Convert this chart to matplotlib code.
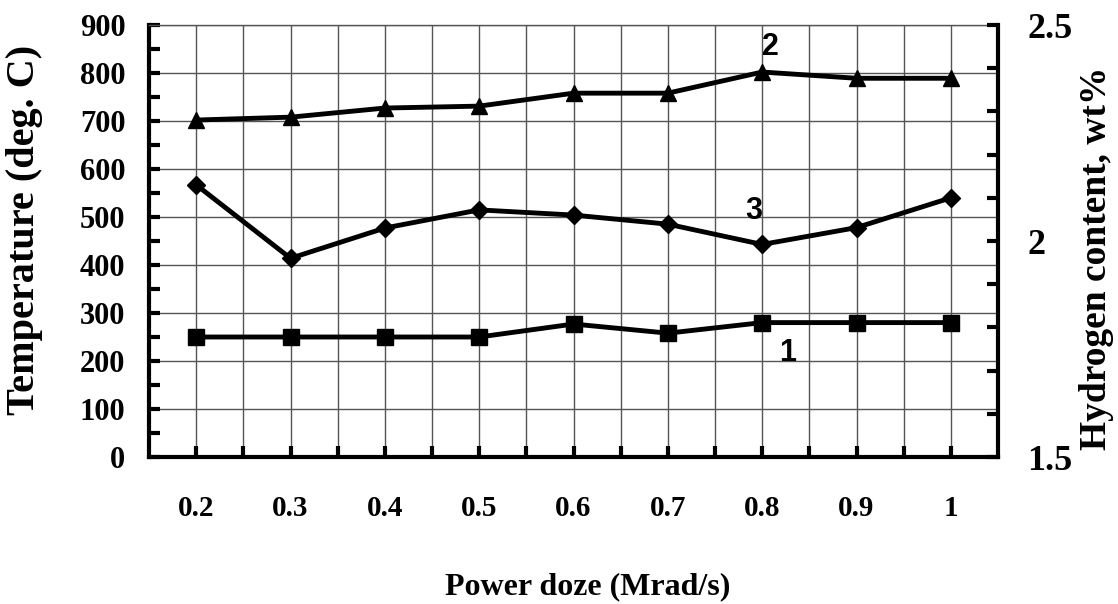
import numpy as np
import matplotlib
matplotlib.use("Agg")
import matplotlib.pyplot as plt

# Data
dose = [0.2, 0.3, 0.4, 0.5, 0.6, 0.7, 0.8, 0.9, 1.0]
dose_labels = ["0.2", "0.3", "0.4", "0.5", "0.6", "0.7", "0.8", "0.9", "1"]
temp_1 = [250, 250, 250, 250, 277, 258, 280, 280, 280]
temp_2 = [702, 708, 727, 731, 758, 758, 802, 789, 789]
hydrogen_3 = [2.13, 1.96, 2.03, 2.072, 2.06, 2.039, 1.992, 2.031, 2.10]

serif = "Liberation Serif"
sans = "Liberation Sans"

fig = plt.figure(figsize=(11.18, 6.04), dpi=100)
ax = fig.add_axes([149 / 1118, 1 - 457 / 604, (998 - 149) / 1118, (457 - 25) / 604])
ax2 = ax.twinx()

#  left axis (temperature)
ax.set_xlim(0.15, 1.05)
ax.set_ylim(0, 900)
ax.set_xticks(dose)
ax.set_xticks(np.round(np.arange(0.25, 1.0, 0.1), 2), minor=True)
ax.set_xticklabels(dose_labels, fontfamily=serif, fontweight="bold", fontsize=21)
ax.set_yticks(np.arange(0, 901, 100))
ax.set_yticks(np.arange(50, 900, 100), minor=True)
ax.set_yticklabels([str(v) for v in range(0, 901, 100)],
                   fontfamily=serif, fontweight="bold", fontsize=22)
ax.tick_params(axis="both", which="both", direction="in", length=8, width=3)
ax.tick_params(axis="x", which="major", pad=27)
ax.tick_params(axis="y", which="major", pad=17)
ax.tick_params(axis="x", which="minor", labelbottom=False)

ax.grid(True, axis="x", which="both", color="#555555", linewidth=1.0)
ax.grid(True, axis="y", which="major", color="#555555", linewidth=1.0)
ax.set_axisbelow(True)

for side in ["left", "bottom"]:
    ax.spines[side].set_linewidth(3)
ax.spines["top"].set_linewidth(1.0)
ax.spines["top"].set_color("#555555")
ax.spines["right"].set_visible(False)

#  right axis (hydrogen content)
ax2.set_ylim(1.5, 2.5)
ax2.set_yticks([1.5, 2.0, 2.5])
ax2.set_yticks(np.round(np.arange(1.6, 2.45, 0.1), 1), minor=True)
ax2.set_yticklabels(["1.5", "2", "2.5"], fontfamily=serif, fontweight="bold", fontsize=26)
ax2.tick_params(axis="y", which="both", direction="in", length=8, width=3, pad=21)
ax2.spines["right"].set_linewidth(3)
for side in ["left", "bottom", "top"]:
    ax2.spines[side].set_visible(False)

#  the three curves
ax.plot(dose, temp_1, color="black", lw=3.5, marker="s", markersize=12, clip_on=False)
ax.plot(dose, temp_2, color="black", lw=3.5, marker="^", markersize=12, clip_on=False)
ax2.plot(dose, hydrogen_3, color="black", lw=3.5, marker="D", markersize=9, clip_on=False)

#  curve numbers
ax.text(0.8085, 855, "2", fontfamily=sans, fontweight="bold", fontsize=22, ha="center", va="center")
ax2.text(0.7915, 2.07, "3", fontfamily=sans, fontweight="bold", fontsize=22, ha="center", va="center")
ax.text(0.8275, 217, "1", fontfamily=sans, fontweight="bold", fontsize=22, ha="center", va="center")

#  axis titles
fig.text(25 / 1118, 1 - 230 / 604, "Temperature (deg. C)", rotation=90,
         fontfamily=serif, fontweight="bold", fontsize=29, ha="center", va="center")
fig.text(1097 / 1118, 1 - 258 / 604, "Hydrogen content, wt%", rotation=90,
         fontfamily=serif, fontweight="bold", fontsize=27, ha="center", va="center")
fig.text(588 / 1118, 1 - 587 / 604, "Power doze (Mrad/s)",
         fontfamily=serif, fontweight="bold", fontsize=23, ha="center", va="center")

fig.savefig("out.png", dpi=100)
